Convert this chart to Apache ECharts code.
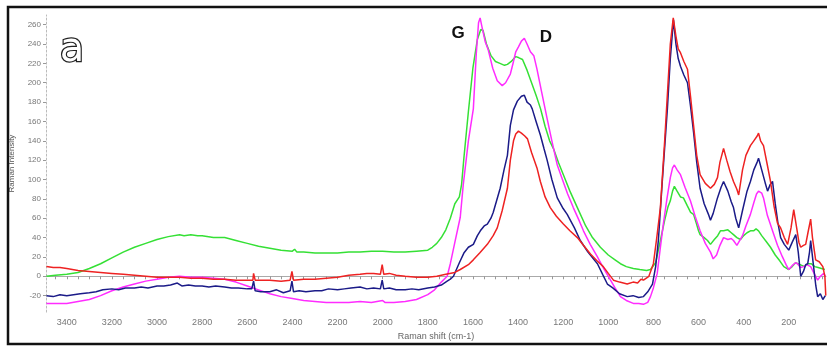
<!DOCTYPE html>
<html><head><meta charset="utf-8">
<script src="https://cdn.jsdelivr.net/npm/echarts@6/dist/echarts.min.js"></script>
<style>html,body{margin:0;padding:0;background:#fff}#c{width:827px;height:346px}</style>
</head><body><div id="c"></div>
<script>
const xTickLabels = [3400,3200,3000,2800,2600,2400,2200,2000,1800,1600,1400,1200,1000,800,600,400,200];
const yTickLabels = [-20,0,20,40,60,80,100,120,140,160,180,200,220,240,260];
const seriesNames = ['green','magenta','navy','red'];
const greenData = [[3490,0],[3450,1],[3400,2],[3350,4],[3300,8],[3250,13],[3200,19],[3150,25],[3100,30],[3050,34],[3000,38],[2950,41],[2900,43],[2880,42],[2850,43],[2820,42],[2800,42],[2750,40],[2700,40],[2650,37],[2600,34],[2550,31],[2500,29],[2450,27],[2400,26],[2390,28],[2380,25],[2350,25],[2300,24],[2250,24],[2200,24],[2150,25],[2100,25],[2050,26],[2000,26],[1950,25],[1900,25],[1850,26],[1800,27],[1780,30],[1760,34],[1740,40],[1720,48],[1700,60],[1680,75],[1660,82],[1650,95],[1640,122],[1620,170],[1600,215],[1580,245],[1565,255],[1555,254],[1540,240],[1520,228],[1500,222],[1480,220],[1460,218],[1447,219],[1430,222],[1410,227],[1398,226],[1380,224],[1360,213],[1340,200],[1320,187],[1300,173],[1280,155],[1260,140],[1243,132],[1220,117],[1199,105],[1170,88],[1137,71],[1100,52],[1070,40],[1035,30],[1000,22],[970,17],[946,13],[920,10],[889,8],[860,7],[830,6],[813,7],[790,14],[769,37],[750,58],[735,72],[725,78],[715,88],[707,93],[695,88],[680,82],[667,81],[650,73],[635,66],[622,64],[610,55],[600,47],[593,43],[575,40],[560,37],[547,33],[530,38],[515,42],[503,47],[489,47],[470,48],[455,45],[445,43],[430,40],[414,38],[400,42],[385,45],[370,47],[356,47],[345,49],[334,47],[320,42],[300,36],[281,30],[260,22],[240,16],[222,10],[200,7],[185,10],[170,14],[150,12],[130,10],[116,13],[100,13],[85,10],[70,9],[55,8],[40,7]];
const magentaData = [[3490,-28],[3450,-28],[3400,-28],[3350,-26],[3300,-24],[3250,-20],[3200,-15],[3150,-11],[3100,-8],[3050,-5],[3000,-3],[2950,-1],[2900,0],[2850,-1],[2800,-1],[2750,-2],[2700,-3],[2650,-6],[2600,-10],[2550,-14],[2500,-18],[2450,-21],[2400,-23],[2350,-25],[2300,-26],[2250,-27],[2200,-27],[2150,-27],[2100,-26],[2050,-27],[2000,-25],[1990,-27],[1950,-27],[1900,-26],[1850,-24],[1800,-19],[1770,-14],[1740,-6],[1714,0],[1700,13],[1680,35],[1656,61],[1643,94],[1620,140],[1598,173],[1585,230],[1575,262],[1568,267],[1560,258],[1545,242],[1532,234],[1512,215],[1492,202],[1470,197],[1455,200],[1434,209],[1420,222],[1410,232],[1398,237],[1385,243],[1372,246],[1360,240],[1345,232],[1330,228],[1316,214],[1295,190],[1271,163],[1250,140],[1226,115],[1200,98],[1180,85],[1155,71],[1130,58],[1110,47],[1080,33],[1048,20],[1020,8],[990,-4],[970,-12],[946,-21],[920,-25],[889,-28],[865,-28],[844,-29],[825,-27],[813,-21],[800,-12],[783,3],[770,28],[756,54],[740,80],[725,102],[715,112],[707,115],[695,110],[680,105],[660,92],[636,78],[615,62],[593,47],[570,34],[547,25],[535,18],[520,22],[505,32],[489,40],[470,38],[455,39],[445,37],[430,32],[422,30],[405,42],[390,52],[370,64],[355,76],[343,85],[334,88],[320,86],[312,81],[295,63],[272,47],[250,32],[228,20],[212,12],[200,7],[185,11],[170,14],[161,13],[148,9],[134,10],[120,12],[103,10],[90,4],[72,-4],[60,0],[45,3],[38,0]];
const navyData = [[3490,-20],[3460,-21],[3430,-19],[3400,-20],[3370,-19],[3340,-18],[3300,-17],[3270,-16],[3240,-14],[3200,-13],[3170,-14],[3140,-12],[3100,-12],[3070,-11],[3040,-12],[3000,-10],[2970,-10],[2940,-9],[2910,-7],[2890,-10],[2860,-9],[2830,-10],[2800,-10],[2770,-11],[2740,-10],[2700,-11],[2670,-12],[2640,-12],[2600,-13],[2580,-13],[2572,-5],[2565,-15],[2540,-16],[2500,-16],[2470,-14],[2440,-17],[2410,-15],[2402,-5],[2395,-16],[2370,-15],[2340,-16],[2300,-15],[2270,-15],[2240,-13],[2200,-14],[2170,-13],[2140,-12],[2100,-11],[2070,-13],[2040,-12],[2010,-13],[2002,-4],[1995,-13],[1970,-12],[1940,-14],[1900,-14],[1870,-13],[1840,-14],[1800,-12],[1770,-11],[1740,-9],[1714,-5],[1700,-3],[1686,0],[1660,14],[1640,24],[1620,30],[1598,33],[1580,42],[1567,47],[1550,52],[1536,54],[1520,60],[1510,66],[1495,78],[1479,91],[1462,110],[1447,125],[1434,156],[1420,172],[1403,181],[1385,186],[1372,187],[1360,180],[1345,177],[1337,173],[1320,160],[1301,146],[1285,132],[1271,120],[1250,100],[1226,81],[1200,70],[1182,64],[1150,50],[1124,37],[1090,25],[1048,13],[1025,2],[1004,-8],[980,-12],[950,-18],[916,-21],[890,-20],[865,-22],[844,-21],[825,-16],[804,-8],[790,10],[778,37],[760,100],[738,173],[725,225],[711,265],[700,240],[690,225],[680,217],[665,208],[649,200],[635,175],[622,149],[608,118],[593,91],[575,75],[556,64],[547,58],[535,65],[516,81],[500,92],[489,98],[470,88],[455,77],[445,71],[435,60],[422,50],[405,68],[385,88],[370,98],[355,110],[340,118],[334,122],[320,110],[305,97],[294,88],[282,95],[272,98],[260,75],[248,55],[236,40],[220,33],[200,27],[185,35],[169,43],[158,25],[147,0],[135,5],[125,12],[116,13],[108,25],[103,37],[90,10],[80,-10],[72,-21],[60,-18],[49,-24],[38,-20]];
const redData = [[3490,10],[3460,9],[3430,9],[3400,8],[3350,6],[3300,5],[3250,4],[3200,3],[3150,2],[3100,1],[3050,0],[3000,-1],[2950,-1],[2900,-1],[2850,-2],[2800,-2],[2750,-3],[2700,-3],[2650,-4],[2600,-4],[2575,-4],[2572,3],[2565,-4],[2500,-4],[2450,-5],[2410,-4],[2402,5],[2395,-4],[2350,-3],[2300,-3],[2250,-2],[2200,-1],[2150,1],[2100,2],[2070,3],[2040,3],[2010,2],[2002,12],[1995,2],[1970,3],[1940,1],[1900,0],[1850,-1],[1800,-1],[1760,0],[1720,2],[1680,4],[1656,7],[1620,12],[1598,17],[1570,24],[1536,33],[1510,42],[1492,50],[1470,68],[1447,91],[1434,120],[1420,140],[1410,147],[1398,150],[1385,148],[1370,145],[1358,142],[1340,128],[1316,112],[1301,98],[1280,82],[1257,71],[1230,62],[1199,54],[1170,47],[1137,40],[1110,32],[1079,23],[1050,16],[1022,10],[1000,3],[977,-4],[950,-6],[916,-8],[890,-6],[870,-7],[855,-3],[844,-4],[820,0],[800,13],[785,40],[769,71],[750,140],[735,200],[725,240],[712,267],[700,248],[690,235],[680,231],[665,222],[649,214],[635,185],[622,156],[608,125],[593,105],[570,96],[547,91],[530,95],[516,102],[505,118],[489,132],[475,120],[460,108],[445,98],[430,90],[422,84],[405,110],[390,125],[370,135],[355,140],[340,145],[334,148],[325,140],[312,135],[295,115],[281,98],[265,72],[250,55],[236,50],[220,40],[205,33],[190,50],[178,69],[165,50],[155,35],[147,30],[135,32],[125,33],[115,45],[103,59],[95,40],[81,17],[65,15],[49,10],[40,0],[36,-20]];
const xMinorTicks = [];
for (let v = 3450; v >= 50; v -= 50) xMinorTicks.push(v);

const colors = {green:'#35e035', magenta:'#ff2cff', navy:'#1b1b88', red:'#ee2222'};
const dataMap = {green:greenData, magenta:magentaData, navy:navyData, red:redData};
const FONT = 'Liberation Sans, Arial, sans-serif';

const chart = echarts.init(document.getElementById('c'), null, {renderer:'canvas'});
chart.setOption({
  animation:false,
  backgroundColor:'#fff',
  grid:{left:46, right:1, top:15, bottom:30},
  xAxis:{
    type:'value', inverse:true, min:35, max:3492,
    name:'Raman shift (cm-1)', nameLocation:'middle', nameGap:17,
    nameTextStyle:{color:'#666', fontSize:9, fontFamily:FONT},
    axisLine:{show:true, lineStyle:{color:'#aaa', width:1}},
    axisTick:{show:true, customValues:xMinorTicks, length:3, lineStyle:{color:'#999'}},
    axisLabel:{customValues:xTickLabels, formatter:v => String(v), color:'#777', fontSize:9, fontFamily:FONT, margin:6},
    splitLine:{show:false}
  },
  yAxis:{
    type:'value', min:-37, max:270,
    name:'Raman Intensity', nameLocation:'middle', nameGap:30,
    nameTextStyle:{color:'#555', fontSize:8, fontFamily:FONT},
    axisLine:{show:true, lineStyle:{color:'#bbb', width:1, type:[2,2]}},
    axisTick:{show:true, customValues:yTickLabels, length:3, lineStyle:{color:'#999'}},
    axisLabel:{customValues:yTickLabels, formatter:v => String(v), color:'#777', fontSize:8, fontFamily:FONT, margin:5},
    splitLine:{show:false}
  },
  series: seriesNames.map(n => ({
    name:n, type:'line', data:dataMap[n], showSymbol:false, symbol:'none',
    lineStyle:{color:colors[n], width:1.5}, z:2
  })),
  graphic:[
    {type:'rect', shape:{x:8, y:7, width:840, height:337}, style:{fill:'none', stroke:'#111', lineWidth:2.5}, z:100},
    {type:'text', x:72, y:51, style:{text:'a', font:'40px DejaVu Sans, sans-serif', fill:'#fff', stroke:'#222', lineWidth:2.4, align:'center', verticalAlign:'middle'}, z:100},
    {type:'text', x:458, y:33, style:{text:'G', font:'bold 17px Liberation Sans, Arial, sans-serif', fill:'#111', align:'center', verticalAlign:'middle'}, z:100},
    {type:'text', x:546, y:37, style:{text:'D', font:'bold 17px Liberation Sans, Arial, sans-serif', fill:'#111', align:'center', verticalAlign:'middle'}, z:100}
  ]
});
</script>
</body></html>
